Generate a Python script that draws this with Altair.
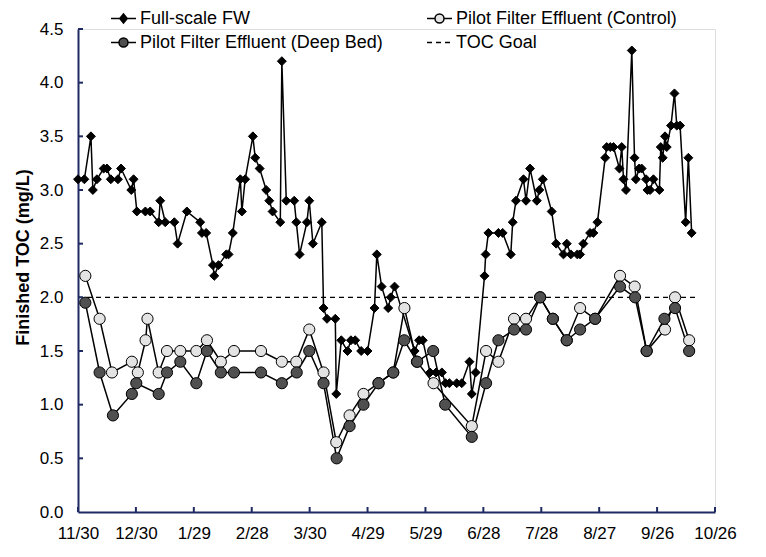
import altair as alt
import pandas as pd

# ---------------- data ----------------
tick_days = [0, 30, 60, 90, 120, 150, 180, 210, 240, 270, 300, 330]
tick_labels = ["11/30", "12/30", "1/29", "2/28", "3/30", "4/29", "5/29",
               "6/28", "7/28", "8/27", "9/26", "10/26"]
y_ticks = [0.0, 0.5, 1.0, 1.5, 2.0, 2.5, 3.0, 3.5, 4.0, 4.5]

series_names = ["Full-scale FW", "Pilot Filter Effluent (Control)",
                "Pilot Filter Effluent (Deep Bed)", "TOC Goal"]

fw_day = [0, 3.3, 6.7, 7.7, 9.8, 13.3, 15, 17, 20.7, 22.3, 27.6, 28.8, 30.5, 34.9,
          37.4, 41.8, 42.6, 45.2, 49.9, 51.6, 56.4, 63.3, 64.2, 66.4, 69.9, 70.6,
          72.8, 76.8, 78, 80.2, 84.1, 84.9, 86.6, 90.6, 91.8, 94.1, 97.5, 99.1,
          100.8, 104.8, 105.6, 107.9, 112, 113.1, 114.8, 118.6, 119.8, 121.7,
          126.3, 127.2, 129, 133.3, 133.8, 136.4, 139.6, 141.4, 143.6, 146.7, 150,
          153.6, 154.8, 157.3, 160.7, 162, 164, 174.4, 176.7, 178.6, 182.4, 185.5,
          188.5, 190.4, 192.4, 196.2, 198.8, 202.8, 204, 206, 210.6, 211.2, 212.6,
          217.8, 220, 224.2, 225.2, 226.9, 230.8, 232.1, 234.2, 237.7, 239, 240.8,
          245.4, 247.7, 251.5, 253.2, 255.3, 258.7, 260.1, 261.8, 265.3, 267,
          269.1, 273.1, 273.9, 275.7, 277.4, 280.5, 281.7, 282.6, 283.9, 286.9,
          288.3, 289, 290.7, 292, 294.3, 295, 296.4, 298.1, 301.2, 301.9, 302.9,
          304.1, 305, 307.2, 309, 310.2, 311.9, 314.8, 316.2, 317.9]
fw_toc = [3.1, 3.1, 3.5, 3.0, 3.1, 3.2, 3.2, 3.1, 3.1, 3.2, 3.0, 3.1, 2.8, 2.8,
          2.8, 2.7, 2.9, 2.7, 2.7, 2.5, 2.8, 2.7, 2.6, 2.6, 2.3, 2.2,
          2.3, 2.4, 2.4, 2.6, 3.1, 2.8, 3.1, 3.5, 3.3, 3.2, 3.0, 2.9,
          2.8, 2.7, 4.2, 2.9, 2.9, 2.7, 2.4, 2.7, 2.9, 2.5,
          2.7, 1.9, 1.8, 1.8, 1.1, 1.6, 1.5, 1.6, 1.6, 1.5, 1.5,
          1.9, 2.4, 2.1, 1.9, 2.0, 2.1, 1.5, 1.6, 1.6, 1.3, 1.3,
          1.3, 1.2, 1.2, 1.2, 1.2, 1.4, 1.1, 1.3, 2.2, 2.4, 2.6,
          2.6, 2.6, 2.4, 2.7, 2.9, 3.1, 2.9, 3.2, 2.9, 3.0, 3.1,
          2.8, 2.5, 2.4, 2.5, 2.4, 2.4, 2.4, 2.5, 2.6, 2.6,
          2.7, 3.3, 3.4, 3.4, 3.4, 3.2, 3.4, 3.1, 3.0, 4.3,
          3.3, 3.1, 3.2, 3.2, 3.1, 3.0, 3.0, 3.1, 3.0, 3.4, 3.3,
          3.5, 3.4, 3.6, 3.9, 3.6, 3.6, 2.7, 3.3, 2.6]

ctl_day = [3.8, 11.2, 17.6, 27.9, 31, 35, 36, 41.8, 46.1, 53, 61.3, 66.8, 74, 80.8,
           94.8, 105.6, 113.1, 119.8, 127.2, 133.8, 140.7, 147.9, 155.7, 163.3,
           169.1, 175.6, 184.2, 204, 211.4, 217.8, 225.9, 232.1, 239.4, 246, 253.2,
           260.1, 267.9, 280.8, 288.4, 294.6, 304.1, 309.3, 316.6]
ctl_toc = [2.2, 1.8, 1.3, 1.4, 1.3, 1.6, 1.8, 1.3, 1.5, 1.5, 1.5, 1.6, 1.4, 1.5,
           1.5, 1.4, 1.4, 1.7, 1.3, 0.65, 0.9, 1.1, 1.2, 1.3,
           1.9, 1.4, 1.2, 0.8, 1.5, 1.4, 1.8, 1.8, 2.0, 1.8, 1.6,
           1.9, 1.8, 2.2, 2.1, 1.5, 1.7, 2.0, 1.6]

deep_day = [3.8, 11.2, 18.1, 27.9, 30.2, 41.8, 46.1, 53, 61.3, 66.8, 74, 80.8,
            94.8, 105.6, 113.3, 119.8, 127.2, 134, 140.7, 147.9, 155.7, 163.3,
            169, 175.7, 184, 190.2, 204, 211.4, 217.8, 225.9, 232.1, 239.4, 246,
            253.2, 260.1, 267.9, 280.8, 288.6, 294.6, 303.8, 309.3, 316.6]
deep_toc = [1.95, 1.3, 0.9, 1.1, 1.2, 1.1, 1.3, 1.4, 1.2, 1.5, 1.3, 1.3,
            1.3, 1.2, 1.3, 1.5, 1.2, 0.5, 0.8, 1.0, 1.2, 1.3,
            1.6, 1.4, 1.5, 1.0, 0.7, 1.2, 1.6, 1.7, 1.7, 2.0, 1.8,
            1.6, 1.7, 1.8, 2.1, 2.0, 1.5, 1.8, 1.9, 1.5]

goal_value = [2.0]
goal_start = [0]
goal_end = [320]

# ---------------- tables ----------------
def table(key, name, days, vals):
    t = pd.DataFrame({"series": name, "day": days, "toc": vals})
    t[key] = name          # per-series field so each legend stays separate
    return t

fw_df = table("fw_name", series_names[0], fw_day, fw_toc)
ctl_df = table("ctl_name", series_names[1], ctl_day, ctl_toc)
deep_df = table("deep_name", series_names[2], deep_day, deep_toc)
all_df = pd.concat([fw_df, ctl_df, deep_df], ignore_index=True)[["series", "day", "toc"]]
goal_df = pd.DataFrame({"goal_name": series_names[3], "day": goal_start,
                        "day_end": goal_end, "toc": goal_value})
xt_df = pd.DataFrame({"day": tick_days})
yt_df = pd.DataFrame({"toc": y_ticks[1:]})

FONT = "Liberation Sans"
NAVY = "#1f2a62"
W, H = 637, 483

label_expr = "[" + ",".join("'%s'" % t for t in tick_labels) + "][round(datum.value/30)]"

xs = alt.Scale(domain=[0, 330], nice=False, zero=False)
ys = alt.Scale(domain=[0, 4.5], nice=False)

x_axis = alt.Axis(values=tick_days, labelExpr=label_expr, title=None, grid=False,
                  ticks=False, tickSize=0, labelPadding=13, labelFontSize=17,
                  labelFont=FONT, labelColor="black", domainColor=NAVY,
                  domainWidth=2, labelFlush=False, labelOverlap=False)
y_axis = alt.Axis(values=y_ticks, format=".1f", title="Finished TOC (mg/L)",
                  grid=False, ticks=False, tickSize=0, labelPadding=15,
                  labelFontSize=17, labelFont=FONT, labelColor="black",
                  domainColor=NAVY, domainWidth=2, titleFont=FONT,
                  titleFontSize=18, titleFontWeight="bold", titleColor="black",
                  titleX=-46, titleY=228, titleBaseline="bottom")

X = alt.X("day:Q", scale=xs, axis=x_axis)
Y = alt.Y("toc:Q", scale=ys, axis=y_axis)

path_fw = "M-1,0H1M0,-0.36L0.3,0L0,0.36L-0.3,0Z"
path_circ = ("M-1,0H-0.36M0.36,0H1M-0.36,0A0.36,0.36 0 1,1 0.36,0"
             "A0.36,0.36 0 1,1 -0.36,0Z")
path_line = "M-1,0H1"

COL1, COL2 = 32, 348
ROW1, ROW2 = -24, 0

LIGHT = "#e3e3e3"
DARK = "#505050"


def leg(x, y, sym, fillc):
    return alt.Legend(title=None, orient="none", legendX=x, legendY=y, padding=0,
                      labelFont=FONT, labelFontSize=18, labelColor="black",
                      labelOffset=3, symbolSize=625, labelLimit=400,
                      symbolType=sym, symbolFillColor=fillc,
                      symbolStrokeColor="black", symbolStrokeWidth=1.5,
                      symbolOpacity=1)


goal = alt.Chart(goal_df).mark_rule(color="black", strokeWidth=1.2).encode(
    x=X, x2="day_end:Q", y=Y,
    strokeDash=alt.StrokeDash("goal_name:N",
                              scale=alt.Scale(domain=[series_names[3]], range=[[5, 4]]),
                              legend=leg(COL2, ROW2, path_line, "transparent")))

lines = alt.Chart(all_df).mark_line(color="black", strokeWidth=1.5).encode(
    x=X, y=Y, detail="series:N")

fw_pts = alt.Chart(fw_df).mark_point(shape="diamond", filled=True,
                                     strokeWidth=1, size=80, opacity=1).encode(
    x=X, y=Y,
    fill=alt.Fill("fw_name:N", scale=alt.Scale(domain=[series_names[0]],
                  range=["black"]),
                  legend=leg(COL1, ROW1, path_fw, "black")),
    stroke=alt.value("black"))

ctl_pts = alt.Chart(ctl_df).mark_point(shape="circle", filled=True,
                                       strokeWidth=1, size=125, opacity=1).encode(
    x=X, y=Y,
    fill=alt.Fill("ctl_name:N", scale=alt.Scale(domain=[series_names[1]],
                  range=[LIGHT]),
                  legend=leg(COL2, ROW1, path_circ, LIGHT)),
    stroke=alt.value("black"))

deep_pts = alt.Chart(deep_df).mark_point(shape="circle", filled=True, fill=DARK,
                                         strokeWidth=1, size=125, opacity=1).encode(
    x=X, y=Y,
    stroke=alt.Stroke("deep_name:N", scale=alt.Scale(domain=[series_names[2]],
                      range=["black"]),
                      legend=leg(COL1, ROW2, path_circ, DARK)))

xticks = alt.Chart(xt_df).mark_rule(color=NAVY, strokeWidth=2).encode(
    x=X, y=alt.value(H), y2=alt.value(H - 5))
yticks = alt.Chart(yt_df).mark_rule(color=NAVY, strokeWidth=2).encode(
    y=Y, x=alt.value(0), x2=alt.value(5))

chart = alt.layer(goal, lines, fw_pts, ctl_pts, deep_pts, xticks, yticks).resolve_scale(
    fill="independent"
).properties(
    width=W, height=H,
    autosize=alt.AutoSizeParams(type="none"),
    padding={"left": 70, "top": 21, "right": 40, "bottom": 44},
).configure_view(stroke=None).configure(background="white")

chart.save("out.html", embed_options={"renderer": "svg", "actions": False})
